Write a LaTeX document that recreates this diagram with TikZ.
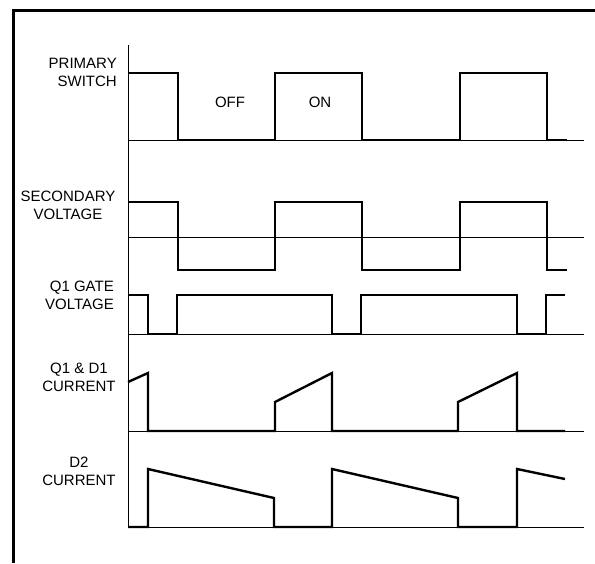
\documentclass[tikz,border=0pt]{standalone}
\usepackage{fontspec}
\setmainfont{Liberation Sans}
\usetikzlibrary{positioning}
\begin{document}
\begin{tikzpicture}[x=1pt,y=-1pt,
  wave/.style={line width=2.4pt,line join=miter},
  axis/.style={line width=0.8pt},
  lbl/.style={font=\fontsize{15}{18}\selectfont,inner sep=0pt}]
\useasboundingbox (0,0) rectangle (595,563);
\draw[line width=3pt](13,563)--(13,10)--(595,10);
\draw[axis](128,45)--(128,528);
% zero lines
\draw[axis](128,140)--(584,140) (128,237)--(584,237) (128,334)--(584,334)
(128,431)--(584,431) (128,527)--(584,527);
% primary switch
\draw[wave](128,73)-|(178,140)-|(275,73)-|(362,140)-|(460,73)-|(547,140)--(567,140);
% secondary voltage
\draw[wave](128,202)-|(178,270)-|(275,202)-|(362,270)-|(460,202)-|(547,270)--(567,270);
% Q1 gate
\draw[wave](128,295)-|(148,334)-|(177,295)-|(332,334)-|(361,295)-|(517,334)-|(546,295)--(565,295);
% Q1 & D1 current
\draw[wave](128,382)--(148,373)--(148,431)--(275,431)--(275,402)--(332,373)--(332,431)
--(458,431)--(458,402)--(517,373)--(517,431)--(565,431);
% D2 current
\draw[wave](128,527)--(148,527)--(148,469)--(274,498)--(274,527)--(332,527)--(332,469)
--(458,498)--(458,527)--(517,527)--(517,469)--(565,479);
% labels
\node[lbl,align=right,anchor=east](psw) at (117,72.5){PRIMARY\\SWITCH};
\node[lbl,align=center](sec) at (68,205){SECONDARY\\VOLTAGE};
\node[lbl,align=right,anchor=east](gate) at (114,295.5){Q1 GATE\\VOLTAGE};
\node[lbl,align=center](qcur) at (79,377.5){Q1 \& D1\\CURRENT};
\node[lbl,align=center](dcur) at (79,471.5){D2\\CURRENT};
\node[lbl](off) at (230,102){OFF};
\node[lbl](on) at (320,102){ON};
\end{tikzpicture}
\end{document}
